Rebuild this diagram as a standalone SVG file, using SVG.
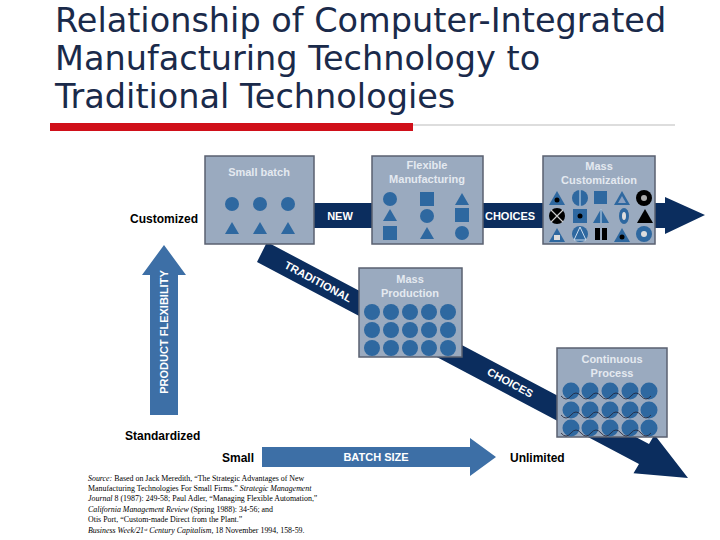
<svg xmlns="http://www.w3.org/2000/svg" width="720" height="540" viewBox="0 0 720 540">
<style>
.t{font-family:"DejaVu Sans",Verdana,sans-serif;font-size:33.5px;fill:#1a2a4a}
.bx{fill:#9aaabf;stroke:#5a6070;stroke-width:1.5}
.bt{font-family:"Liberation Sans",Arial,sans-serif;font-weight:bold;font-size:11px;fill:#e4e9f0;text-anchor:middle}
.s{fill:#2e68a0}
.k{fill:#000}
.lb{font-family:"Liberation Sans",Arial,sans-serif;font-weight:bold;font-size:12px;fill:#000}
.al{font-family:"Liberation Sans",Arial,sans-serif;font-weight:bold;font-size:11px;fill:#fff;text-anchor:middle}
.src{font-family:"Liberation Serif","Times New Roman",serif;font-size:7.9px;fill:#000}
.w{fill:none;stroke:#223;stroke-width:0.8}
</style>
<rect width="720" height="540" fill="#fff"/>
<g id="title">
<text class="t" x="55" y="32">Relationship of Computer-Integrated</text>
<text class="t" x="55" y="70">Manufacturing Technology to</text>
<text class="t" x="55" y="108">Traditional Technologies</text>
<line x1="50" y1="125" x2="675" y2="125" stroke="#bbb" stroke-width="1"/>
<rect x="50" y="123" width="363" height="8" fill="#d0101a"/>
</g>
<g id="connectors">
<polygon points="314,203 665,203 665,197 705,215 665,234 665,228 314,228" fill="#0b2d5e"/>
<polygon points="267,242 649,444 654.5,434.7 688,478 633.5,473.3 639,464 257,262" fill="#0b2d5e"/>
<polygon points="150,415 178,415 178,275 186,275 164,245 142,275 150,275" fill="#3d6fa6"/>
<polygon points="262,447 470,447 470,438 496,457 470,476 470,467 262,467" fill="#3d6fa6"/>
<text class="al" x="340" y="220">NEW</text>
<text class="al" x="510" y="220">CHOICES</text>
<text class="al" transform="translate(318,282) rotate(28)" y="3.5" font-size="10">TRADITIONAL</text>
<text class="al" transform="translate(510,383) rotate(28)" y="3.5" font-size="10">CHOICES</text>
<text class="al" transform="translate(168,332) rotate(-90)">PRODUCT FLEXIBILITY</text>
<text class="al" x="376" y="461">BATCH SIZE</text>
</g>
<g id="small-batch">
<rect class="bx" x="205" y="156" width="109" height="88"/>
<text class="bt" x="259" y="176">Small batch</text>
<circle class="s" cx="232" cy="204" r="7"/><circle class="s" cx="260" cy="204" r="7"/><circle class="s" cx="288" cy="204" r="7"/>
<polygon class="s" points="225,234 232,222 239,234"/><polygon class="s" points="253,234 260,222 267,234"/><polygon class="s" points="281,234 288,222 295,234"/>
</g>
<g id="flexible">
<rect class="bx" x="372" y="156" width="111" height="88"/>
<text class="bt" x="427" y="169">Flexible</text>
<text class="bt" x="427" y="183">Manufacturing</text>
<circle class="s" cx="390" cy="199" r="7"/><rect class="s" x="420" y="192" width="14" height="14"/><polygon class="s" points="455,205 462,193 469,205"/>
<polygon class="s" points="383,221 390,209 397,221"/><circle class="s" cx="427" cy="216" r="7"/><rect class="s" x="455" y="208" width="14" height="14"/>
<rect class="s" x="383" y="226" width="14" height="14"/><polygon class="s" points="420,239 427,227 434,239"/><circle class="s" cx="462" cy="233" r="7"/>
</g>
<g id="mass-customization">
<rect class="bx" x="543" y="156" width="112" height="88"/>
<text class="bt" x="599" y="170">Mass</text>
<text class="bt" x="599" y="184">Customization</text>
<polygon class="s" points="549,205 557,191 565,205"/><circle class="k" cx="557" cy="200" r="2.5"/>
<circle class="s" cx="580" cy="198" r="8"/><line x1="580" y1="190" x2="580" y2="206" stroke="#cde" stroke-width="1"/>
<rect class="s" x="594" y="191" width="13" height="13"/>
<polygon class="s" points="614,205 622,191 630,205"/><polygon points="618,203 622,196 626,203" fill="#8aa0c0"/>
<circle class="k" cx="644" cy="198" r="8"/><circle cx="644" cy="198" r="3" fill="#aaa"/>
<circle class="k" cx="557" cy="216" r="8"/><path d="M551,210 L563,222 M563,210 L551,222" stroke="#ccc" stroke-width="1.2"/>
<rect class="s" x="573" y="209" width="14" height="14"/><circle class="k" cx="580" cy="216" r="2.5"/>
<polygon class="s" points="593,223 601,209 609,223"/><line x1="601" y1="209" x2="601" y2="223" stroke="#cde"/>
<ellipse class="s" cx="624" cy="216" rx="5" ry="8"/><ellipse cx="624" cy="216" rx="2" ry="4" fill="#ddd"/>
<polygon class="k" points="637,223 645,209 653,223"/>
<polygon class="s" points="549,242 557,228 565,242"/><rect x="554" y="235" width="6" height="5" fill="#ddd"/>
<circle class="s" cx="580" cy="234" r="8"/><polygon points="574,240 580,227 586,240" fill="none" stroke="#cde"/>
<rect class="k" x="595" y="228" width="5" height="12"/><rect class="k" x="602" y="228" width="5" height="12"/>
<polygon class="s" points="614,242 622,228 630,242"/><circle class="k" cx="622" cy="237" r="2.5"/>
<circle class="s" cx="644" cy="234" r="8"/><circle cx="644" cy="234" r="3" fill="#ddd"/>
</g>
<g id="mass-production">
<rect class="bx" x="359" y="268" width="103" height="89"/>
<text class="bt" x="410" y="283">Mass</text>
<text class="bt" x="410" y="297">Production</text>
<g class="s">
<circle cx="372" cy="312" r="8"/><circle cx="391" cy="312" r="8"/><circle cx="410" cy="312" r="8"/><circle cx="429" cy="312" r="8"/><circle cx="448" cy="312" r="8"/>
<circle cx="372" cy="330" r="8"/><circle cx="391" cy="330" r="8"/><circle cx="410" cy="330" r="8"/><circle cx="429" cy="330" r="8"/><circle cx="448" cy="330" r="8"/>
<circle cx="372" cy="348" r="8"/><circle cx="391" cy="348" r="8"/><circle cx="410" cy="348" r="8"/><circle cx="429" cy="348" r="8"/><circle cx="448" cy="348" r="8"/>
</g>
</g>
<g id="continuous-process">
<rect class="bx" x="557" y="348" width="110" height="89"/>
<text class="bt" x="612" y="363">Continuous</text>
<text class="bt" x="612" y="377">Process</text>
<g class="s">
<circle cx="571" cy="391" r="8.5"/><circle cx="590" cy="391" r="8.5"/><circle cx="610" cy="391" r="8.5"/><circle cx="630" cy="391" r="8.5"/><circle cx="649" cy="391" r="8.5"/>
<circle cx="571" cy="410" r="8.5"/><circle cx="590" cy="410" r="8.5"/><circle cx="610" cy="410" r="8.5"/><circle cx="630" cy="410" r="8.5"/><circle cx="649" cy="410" r="8.5"/>
<circle cx="571" cy="428" r="8.5"/><circle cx="590" cy="428" r="8.5"/><circle cx="610" cy="428" r="8.5"/><circle cx="630" cy="428" r="8.5"/><circle cx="649" cy="428" r="8.5"/>
</g>
<path class="w" d="M561,396 q5,6 10,0 t10,0 t10,0 t10,0 t10,0 t10,0 t10,0 t10,0 t10,0 M561,415 q5,6 10,0 t10,0 t10,0 t10,0 t10,0 t10,0 t10,0 t10,0 t10,0 M561,433 q5,6 10,0 t10,0 t10,0 t10,0 t10,0 t10,0 t10,0 t10,0 t10,0"/>
</g>
<g id="labels">
<text class="lb" x="130" y="223">Customized</text>
<text class="lb" x="125" y="440">Standardized</text>
<text class="lb" x="222" y="462">Small</text>
<text class="lb" x="510" y="462">Unlimited</text>
</g>
<g id="source" class="src">
<text x="88" y="481"><tspan font-style="italic">Source:</tspan>  Based on Jack Meredith, “The Strategic Advantages of New</text>
<text x="88" y="491">Manufacturing Technologies For Small Firms.” <tspan font-style="italic">Strategic Management</tspan></text>
<text x="88" y="501"><tspan font-style="italic">Journal</tspan> 8 (1987):  249-58; Paul Adler, “Managing Flexible Automation,”</text>
<text x="88" y="512"><tspan font-style="italic">California Management Review</tspan> (Spring 1988): 34-56; and</text>
<text x="88" y="522">Otis Port, “Custom-made Direct from the Plant.”</text>
<text x="88" y="533"><tspan font-style="italic">Business Week/21<tspan baseline-shift="super" font-size="5">st</tspan> Century Capitalism,</tspan> 18 November 1994, 158-59.</text>
</g>
</svg>
